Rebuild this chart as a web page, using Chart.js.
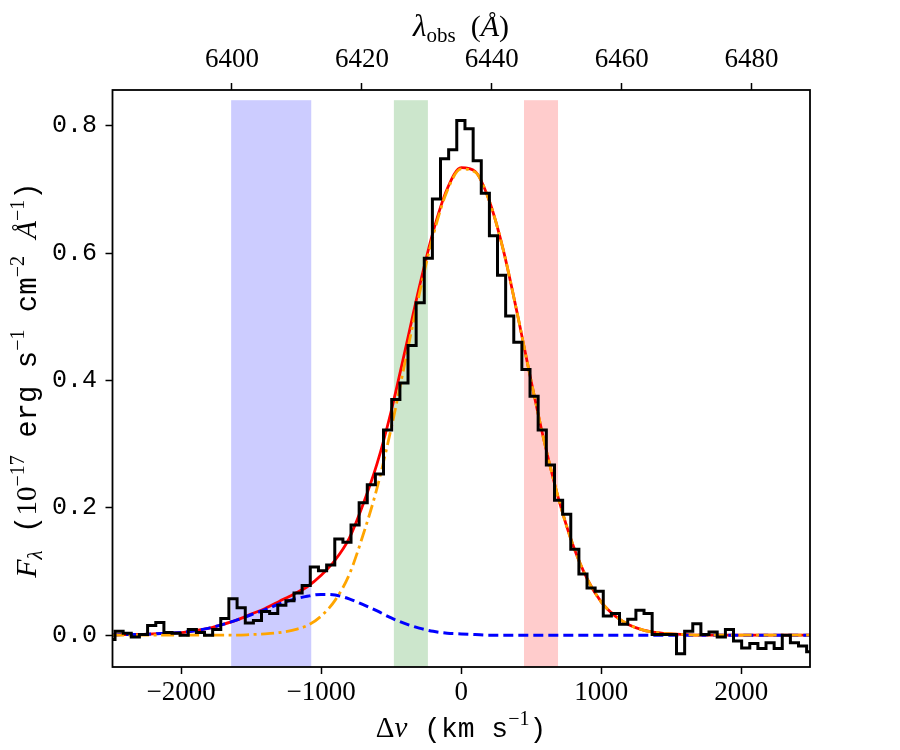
<!DOCTYPE html>
<html>
<head>
<meta charset="utf-8">
<script src="https://cdn.jsdelivr.net/npm/chart.js@4.4.1/dist/chart.umd.min.js"></script>
<style>
  html, body { margin: 0; padding: 0; background: #fff; }
</style>
</head>
<body>
<canvas id="chart" width="900" height="750"></canvas>
<script>
// binned spectrum (bin centres in km/s, flux in 1e-17 erg/s/cm2/A)
const binVelocity = [
  -2501, -2443, -2385, -2327, -2269, -2210, -2152, -2094, -2036, -1978,
  -1920, -1862, -1804, -1746, -1688, -1630, -1571, -1513, -1455, -1397,
  -1339, -1281, -1223, -1165, -1107, -1049, -990, -932, -874, -816,
  -758, -700, -642, -584, -526, -467, -409, -351, -293, -235,
  -177, -119, -61, -3, 56, 114, 172, 230, 288, 346,
  404, 462, 520, 578, 637, 695, 753, 811, 869, 927,
  985, 1043, 1101, 1159, 1218, 1276, 1334, 1392, 1450, 1508,
  1566, 1624, 1682, 1740, 1798, 1857, 1915, 1973, 2031, 2089,
  2147, 2205, 2263, 2321, 2379, 2437, 2495
];
const binFlux = [
  -0.007, 0.006, 0.003, -0.003, 0.001, 0.015, 0.020, 0.004, 0.003, 0.000,
  0.009, 0.004, 0.000, 0.009, 0.026, 0.057, 0.043, 0.019, 0.023, 0.037,
  0.034, 0.047, 0.054, 0.066, 0.078, 0.107, 0.101, 0.110, 0.151, 0.146,
  0.173, 0.208, 0.236, 0.253, 0.322, 0.370, 0.396, 0.455, 0.522, 0.592,
  0.685, 0.748, 0.762, 0.808, 0.795, 0.745, 0.694, 0.627, 0.565, 0.501,
  0.460, 0.417, 0.375, 0.322, 0.267, 0.212, 0.190, 0.135, 0.096, 0.074,
  0.069, 0.030, 0.034, 0.017, 0.025, 0.039, 0.034, 0.001, 0.001, 0.001,
  -0.029, 0.006, 0.018, 0.001, 0.005, -0.003, 0.009, -0.009, -0.020, -0.013,
  -0.021, -0.012, -0.021, 0.000, -0.012, -0.017, -0.026
];

// fitted model curves
const modelVelocity = [
  -2500, -2400, -2300, -2200, -2100, -2000, -1900, -1800, -1700, -1600,
  -1500, -1400, -1300, -1200, -1100, -1000, -900, -800, -700, -600,
  -500, -400, -300, -200, -100, 0, 100, 200, 300, 400,
  500, 600, 700, 800, 900, 1000, 1100, 1200, 1300, 1400,
  1500, 1600, 1700, 1800, 1900, 2000, 2100, 2200, 2300, 2400, 2500
];
const totalFit = [
  0.000, 0.001, 0.001, 0.002, 0.003, 0.004, 0.007, 0.011, 0.017, 0.024,
  0.033, 0.042, 0.053, 0.064, 0.076, 0.094, 0.118, 0.152, 0.206, 0.270,
  0.352, 0.448, 0.546, 0.634, 0.701, 0.734, 0.728, 0.682, 0.605, 0.505,
  0.398, 0.297, 0.210, 0.140, 0.088, 0.052, 0.030, 0.016, 0.008, 0.004,
  0.002, 0.001, 0.000, 0.000, 0.000, 0.000, 0.000, 0.000, 0.000, 0.000, 0.000
];
const narrowFit = [
  0.000, 0.000, 0.000, 0.000, 0.000, 0.000, 0.000, 0.000, 0.000, 0.000,
  0.001, 0.002, 0.004, 0.008, 0.015, 0.030, 0.055, 0.095, 0.158, 0.232,
  0.325, 0.430, 0.535, 0.628, 0.698, 0.732, 0.727, 0.682, 0.605, 0.505,
  0.398, 0.297, 0.210, 0.140, 0.088, 0.052, 0.030, 0.016, 0.008, 0.004,
  0.002, 0.001, 0.000, 0.000, 0.000, 0.000, 0.000, 0.000, 0.000, 0.000, 0.000
];
const broadFit = [
  0.000, 0.001, 0.001, 0.002, 0.003, 0.004, 0.007, 0.011, 0.017, 0.024,
  0.032, 0.040, 0.049, 0.056, 0.061, 0.064, 0.063, 0.057, 0.048, 0.038,
  0.027, 0.018, 0.011, 0.006, 0.003, 0.002, 0.001, 0.000, 0.000, 0.000,
  0.000, 0.000, 0.000, 0.000, 0.000, 0.000, 0.000, 0.000, 0.000, 0.000,
  0.000, 0.000, 0.000, 0.000, 0.000, 0.000, 0.000, 0.000, 0.000, 0.000, 0.000
];

// shaded velocity windows
const spanStart = [-1643, -481, 448];
const spanEnd = [-1071, -238, 691];
const spanTop = 0.84;

const xTicks = [-2000, -1000, 0, 1000, 2000];
const yTicks = [0.0, 0.2, 0.4, 0.6, 0.8];
const lambdaTicks = [6400, 6420, 6440, 6460, 6480];

const spanColors = ['rgba(0,0,255,0.2)', 'rgba(0,128,0,0.2)', 'rgba(255,0,0,0.2)'];
const SERIF = "'Liberation Serif', 'DejaVu Serif', serif";
const MONO = "'Liberation Mono', 'DejaVu Sans Mono', monospace";

const pts = (xs, ys) => xs.map((x, i) => ({x: x, y: ys[i]}));

function drawRich(ctx, parts, x, y, angle) {
  ctx.save();
  ctx.translate(x, y);
  ctx.rotate(angle);
  ctx.textAlign = 'left';
  ctx.textBaseline = 'alphabetic';
  ctx.fillStyle = '#000';
  let w = 0;
  parts.forEach(p => { ctx.font = p.font; p.w = ctx.measureText(p.text).width; w += p.w; });
  let cx = -w / 2;
  parts.forEach(p => { ctx.font = p.font; ctx.fillText(p.text, cx, p.dy || 0); cx += p.w; });
  ctx.restore();
}

const spans = {
  id: 'spans',
  beforeDatasetsDraw(chart) {
    const {ctx, chartArea, scales} = chart;
    ctx.save();
    for (let i = 0; i < spanStart.length; i++) {
      const x0 = scales.x.getPixelForValue(spanStart[i]);
      const x1 = scales.x.getPixelForValue(spanEnd[i]);
      const yt = scales.y.getPixelForValue(spanTop);
      ctx.fillStyle = spanColors[i];
      ctx.fillRect(x0, yt, x1 - x0, chartArea.bottom - yt);
    }
    ctx.restore();
  }
};

const frame = {
  id: 'frame',
  afterDatasetsDraw(chart) {
    const {ctx, chartArea} = chart;
    ctx.save();
    ctx.strokeStyle = '#000';
    ctx.lineWidth = 1.8;
    ctx.strokeRect(chartArea.left, chartArea.top, chartArea.right - chartArea.left, chartArea.bottom - chartArea.top);
    ctx.restore();
  },
  afterDraw(chart) {
    const ctx = chart.ctx;
    drawRich(ctx, [
      {text: 'Δ', font: `29px ${SERIF}`},
      {text: 'v', font: `italic 29px ${SERIF}`},
      {text: ' (km s', font: `28px ${MONO}`},
      {text: '−1', font: `20px ${SERIF}`, dy: -12},
      {text: ')', font: `28px ${MONO}`}
    ], 461, 737, 0);
    drawRich(ctx, [
      {text: 'λ', font: `italic 31px ${SERIF}`},
      {text: 'obs', font: `21px ${SERIF}`, dy: 6},
      {text: '  (', font: `30px ${SERIF}`},
      {text: 'Å', font: `italic 30px ${SERIF}`},
      {text: ')', font: `30px ${SERIF}`}
    ], 461, 36, 0);
    drawRich(ctx, [
      {text: 'F', font: `italic 30px ${SERIF}`},
      {text: 'λ', font: `italic 21px ${SERIF}`, dy: 6},
      {text: ' (', font: `29px ${MONO}`},
      {text: '10', font: `29px ${SERIF}`},
      {text: '−17', font: `20px ${SERIF}`, dy: -12},
      {text: ' erg s', font: `29px ${MONO}`},
      {text: '−1', font: `20px ${SERIF}`, dy: -12},
      {text: ' cm', font: `29px ${MONO}`},
      {text: '−2', font: `20px ${SERIF}`, dy: -12},
      {text: ' ', font: `29px ${MONO}`},
      {text: 'Å', font: `italic 29px ${SERIF}`},
      {text: '−1', font: `20px ${SERIF}`, dy: -12},
      {text: ')', font: `29px ${MONO}`}
    ], 36, 380, -Math.PI / 2);
  }
};

const tickGrid = { drawOnChartArea: false, drawTicks: true, tickLength: 7, tickWidth: 1.5, tickColor: '#000' };

const chart = new Chart(document.getElementById('chart'), {
  type: 'line',
  data: {
    datasets: [
      { label: 'data', data: pts(binVelocity, binFlux), stepped: 'middle',
        borderColor: '#000', borderWidth: 3, order: 0 },
      { label: 'narrow', data: pts(modelVelocity, narrowFit), borderColor: '#ffa500',
        borderWidth: 2.8, borderDash: [13, 4.5, 3, 4.5], cubicInterpolationMode: 'monotone', order: 1 },
      { label: 'broad', data: pts(modelVelocity, broadFit), borderColor: '#0000ff',
        borderWidth: 3, borderDash: [10, 5], cubicInterpolationMode: 'monotone', order: 2 },
      { label: 'total', data: pts(modelVelocity, totalFit), borderColor: '#ff0000',
        borderWidth: 2.8, cubicInterpolationMode: 'monotone', order: 3 }
    ]
  },
  options: {
    responsive: false,
    animation: false,
    devicePixelRatio: 1,
    layout: { padding: { left: 0, right: 90, top: 0, bottom: 0 } },
    elements: { point: { radius: 0 }, line: { fill: false } },
    plugins: { legend: { display: false }, tooltip: { enabled: false } },
    scales: {
      x: {
        type: 'linear', position: 'bottom', min: -2490, max: 2490,
        afterFit: s => { s.height = 83; },
        afterBuildTicks: s => { s.ticks = xTicks.map(v => ({value: v})); },
        ticks: {
          color: '#000', font: { family: SERIF, size: 27 }, padding: 3,
          maxRotation: 0, autoSkip: false,
          callback: v => v < 0 ? '\u2212' + Math.abs(v) : String(v)
        },
        grid: tickGrid,
        border: { display: false }
      },
      x2: {
        type: 'linear', position: 'top', min: 6381.6, max: 6489.0,
        afterFit: s => { s.height = 90; },
        afterBuildTicks: s => { s.ticks = lambdaTicks.map(v => ({value: v})); },
        ticks: {
          color: '#000', font: { family: SERIF, size: 27 }, padding: 7,
          maxRotation: 0, autoSkip: false,
          callback: v => String(v)
        },
        grid: tickGrid,
        border: { display: false }
      },
      y: {
        type: 'linear', min: -0.050, max: 0.856,
        afterFit: s => { s.width = 112.5; },
        afterBuildTicks: s => { s.ticks = yTicks.map(v => ({value: v})); },
        ticks: {
          color: '#000', font: { family: MONO, size: 25 }, padding: 8.5,
          callback: v => v.toFixed(1)
        },
        grid: tickGrid,
        border: { display: false }
      }
    }
  },
  plugins: [spans, frame]
});
</script>
</body>
</html>
